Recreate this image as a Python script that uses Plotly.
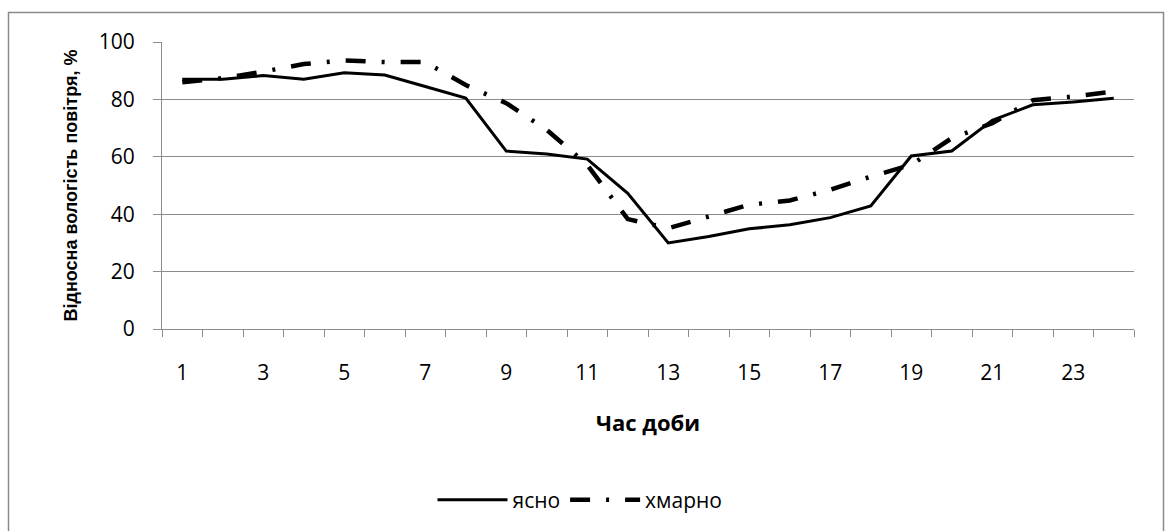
import plotly.graph_objects as go

# Hour of day and relative air humidity (%) for clear and cloudy days
hours = list(range(1, 25))
clear = [87, 87, 88.3, 87, 89.3, 88.5, 84.5, 80.5, 62, 61, 59.2, 47.3,
         30, 32.2, 34.9, 36.3, 38.8, 42.9, 60.3, 62, 72.7, 78.1, 79.1, 80.4]
cloudy = [86, 87.4, 89.7, 92.3, 93.6, 93, 93, 85, 78.7, 69.4, 57.2, 38.3,
          35.1, 39.2, 43.3, 44.8, 48.5, 53.1, 57.2, 66.5, 71.7, 79.7, 81, 82.8]
series_names = ["ясно", "хмарно"]
x_tick_labels = [str(h) for h in hours if h % 2 == 1]
y_ticks = [0, 20, 40, 60, 80, 100]

W, H = 1165, 531
L, R, T, B = 162, 31, 42, 202
pw, ph = W - L - R, H - T - B

GRID = "#8c8c8c"
TICK_FONT = dict(family="Open Sans", size=21, color="#000000")

fig = go.Figure()
fig.add_trace(go.Scatter(
    x=hours, y=clear, name=series_names[0], mode="lines",
    line=dict(color="#000000", width=3),
))
fig.add_trace(go.Scatter(
    x=hours, y=cloudy, name=series_names[1], mode="lines",
    line=dict(color="#000000", width=4.5, dash="20px,16px,3px,16px"),
))

def px_to_paper_x(p):
    return (p - L) / pw

def px_to_paper_y(p):
    return (H - B - p) / ph

fig.update_layout(
    width=W, height=H,
    margin=dict(l=L, r=R, t=T, b=B, autoexpand=False),
    paper_bgcolor="#ffffff", plot_bgcolor="#ffffff",
    showlegend=True,
    legend=dict(
        orientation="h", x=px_to_paper_x(580), xanchor="center",
        y=px_to_paper_y(500), yanchor="middle",
        font=dict(family="Open Sans", size=21, color="#000000"),
        itemwidth=70, bgcolor="rgba(0,0,0,0)",
    ),
    xaxis=dict(
        range=[0.5, 24.5],
        tickmode="array",
        tickvals=[h for h in hours if h % 2 == 1],
        ticktext=x_tick_labels,
        ticks="",
        ticklabelstandoff=25,
        tickfont=TICK_FONT,
        showgrid=False, zeroline=False,
        showline=True, linecolor=GRID, linewidth=1,
        minor=dict(tickmode="linear", tick0=0.5, dtick=1, ticks="outside",
                   ticklen=7, tickcolor=GRID, tickwidth=1, showgrid=False),
        title=dict(text="<b>Час доби</b>", standoff=30,
                   font=dict(family="Open Sans", size=22, color="#000000")),
    ),
    yaxis=dict(
        range=[0, 100],
        tickmode="array", tickvals=y_ticks,
        ticks="outside", ticklen=8, tickcolor=GRID, tickwidth=1,
        ticklabelstandoff=14,
        tickfont=TICK_FONT,
        showgrid=True, gridcolor=GRID, gridwidth=1,
        zeroline=False,
        showline=True, linecolor=GRID, linewidth=1,
        title=dict(text="<b>Відносна вологість повітря, %</b>", standoff=16,
                   font=dict(family="Liberation Sans", size=18, color="#000000")),
    ),
    shapes=[dict(
        type="rect", xref="paper", yref="paper",
        x0=px_to_paper_x(8.5), x1=px_to_paper_x(1163.5),
        y0=px_to_paper_y(540), y1=px_to_paper_y(12.5),
        line=dict(color="#8a8a8a", width=1.5), fillcolor="rgba(0,0,0,0)",
        layer="below",
    )],
)

fig.write_html("out.html")
